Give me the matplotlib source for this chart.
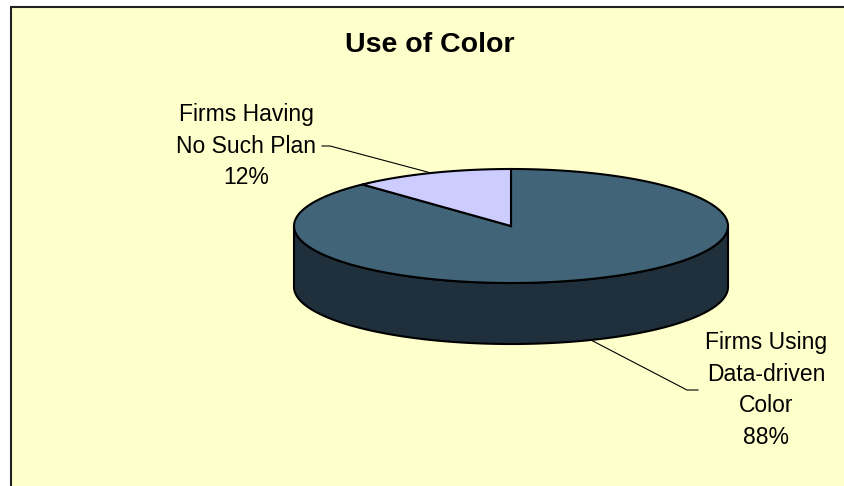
import numpy as np
import matplotlib
matplotlib.use("Agg")
import matplotlib.pyplot as plt
from matplotlib.patches import Polygon, Rectangle

# === Data ===
TITLE = "Use of Color"
LABELS = ["Firms Using\nData-driven\nColor", "Firms Having\nNo Such Plan"]
SHARES = [88, 12]

# === Layout (pixels, y pointing down) ===
W, H = 845, 486
BG = "#FFFFCC"
TOP_COLORS = ["#416478", "#CCCCFF"]
SIDE_COLORS = ["#1F2F3B", "#A3A3CC"]
CX, CY = 511, 226          # centre of the top face
RX, RY = 217, 57           # radii of the top face
DEPTH = 61                 # thickness of the disc
START = 90                 # slices run clockwise from 12 o'clock
LABEL_POS = [(766, 390), (246, 146)]
ELBOW = [(698, 687), (322, 330)]   # x of text end / elbow of the leader line

plt.rcParams["font.family"] = ["Liberation Sans", "DejaVu Sans"]


def ellipse_pts(a_from, a_to, dy=0, n=200):
    t = np.radians(np.linspace(a_from, a_to, n))
    return np.column_stack([CX + RX * np.cos(t), CY - RY * np.sin(t) + dy])


fig = plt.figure(figsize=(W / 100, H / 100), dpi=100)
ax = fig.add_axes([0, 0, 1, 1])
ax.set_xlim(0, W)
ax.set_ylim(H, 0)
ax.axis("off")

# chart area, runs off the right and bottom edges
ax.add_patch(Rectangle((11, 7), W, H, facecolor=BG, edgecolor="none", zorder=0))
ax.plot([11, 11, W + 5], [H + 5, 7, 7], color="#222222", lw=1.5, solid_joinstyle="miter", zorder=1)

total = float(sum(SHARES))
bounds = []
a = START
for s in SHARES:
    a1 = a - s / total * 360
    bounds.append((a, a1))
    a = a1

# front wall: only the part facing the viewer (180..360 deg)
for i, (a0, a1) in enumerate(bounds):
    for k in range(-2, 2):
        lo, hi = -180 + 360 * k, 0 + 360 * k
        s0, s1 = max(a1, lo), min(a0, hi)
        if s1 > s0:
            top = ellipse_pts(s0, s1)
            bot = ellipse_pts(s1, s0, dy=DEPTH)
            ax.add_patch(Polygon(np.vstack([top, bot]), closed=True, facecolor=SIDE_COLORS[i],
                                 edgecolor="black", lw=1.5, zorder=2))

# top faces
for i, (a0, a1) in enumerate(bounds):
    arc = ellipse_pts(a0, a1)
    pts = np.vstack([[CX, CY], arc])
    ax.add_patch(Polygon(pts, closed=True, facecolor=TOP_COLORS[i], edgecolor="black",
                         lw=1.5, joinstyle="miter", zorder=3))

# labels with leader lines
for i, (a0, a1) in enumerate(bounds):
    mid = np.radians((a0 + a1) / 2)
    px = CX + RX * np.cos(mid)
    py = CY - RY * np.sin(mid)
    if np.sin(mid) < 0:
        py += DEPTH
    tx, ty = LABEL_POS[i]
    x_end, x_elbow = ELBOW[i]
    ax.plot([x_end, x_elbow, px], [ty, ty, py], color="black", lw=0.8, zorder=4)
    ax.text(tx, ty, f"{LABELS[i]}\n{SHARES[i]}%", ha="center", va="center",
            fontsize=16.5, linespacing=1.47, zorder=5)

ax.text(430, 45, TITLE, ha="center", va="center", fontsize=20.5, fontweight="bold")

fig.savefig("out.png", dpi=100, facecolor="white")
